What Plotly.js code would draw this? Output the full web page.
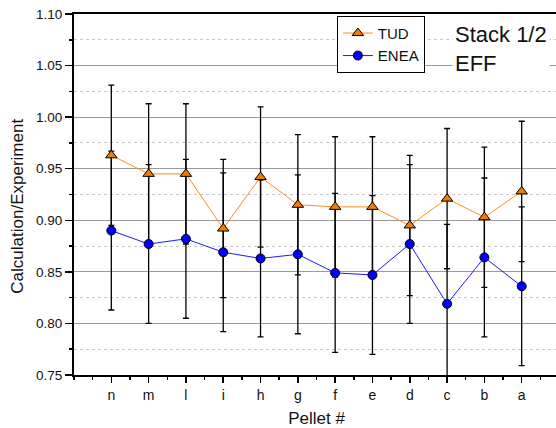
<!DOCTYPE html>
<html>
<head>
<meta charset="utf-8">
<script src="https://cdn.plot.ly/plotly-3.0.1.min.js"></script>
<style>
html, body { margin: 0; padding: 0; overflow: hidden; background: #fff; }
#chart { width: 570px; height: 428px; }
</style>
</head>
<body>
<div id="chart"></div>
<script>
// ---- data ----
const pellets = ['n', 'm', 'l', 'i', 'h', 'g', 'f', 'e', 'd', 'c', 'b', 'a'];
const pelletPos = [1, 2, 3, 4, 5, 6, 7, 8, 9, 10, 11, 12];
const tud = [0.963, 0.945, 0.945, 0.892, 0.942, 0.915, 0.913, 0.913, 0.895, 0.921, 0.903, 0.928];
const tudErr = [0.068, 0.068, 0.068, 0.067, 0.068, 0.068, 0.068, 0.068, 0.068, 0.068, 0.068, 0.068];
const enea = [0.890, 0.877, 0.882, 0.869, 0.863, 0.867, 0.849, 0.847, 0.877, 0.819, 0.864, 0.836];
const eneaErr = [0.077, 0.077, 0.077, 0.077, 0.076, 0.077, 0.077, 0.077, 0.077, 0.077, 0.077, 0.077];
const yTicks = [0.75, 0.80, 0.85, 0.90, 0.95, 1.00, 1.05, 1.10];

const errStyle = (arr) => ({ type: 'data', array: arr, visible: true, color: '#000', thickness: 1.3, width: 3 });

const traces = [
  // error bars drawn first so that all markers sit on top
  { x: pelletPos, y: tud, mode: 'markers', marker: { size: 1, opacity: 0 }, error_y: errStyle(tudErr),
    showlegend: false, hoverinfo: 'skip' },
  { x: pelletPos, y: enea, mode: 'markers', marker: { size: 1, opacity: 0 }, error_y: errStyle(eneaErr),
    showlegend: false, hoverinfo: 'skip' },
  { x: pelletPos, y: tud, name: 'TUD', mode: 'lines+markers',
    line: { color: '#FF8A1C', width: 1 },
    marker: { symbol: 'triangle-up', size: 10, color: '#F47A00', line: { color: '#000', width: 1 } } },
  { x: pelletPos, y: enea, name: 'ENEA', mode: 'lines+markers',
    line: { color: '#1A1AFF', width: 1 },
    marker: { symbol: 'circle', size: 9, color: '#0000FF', line: { color: '#000', width: 1 } } }
];

const layout = {
  width: 570, height: 428,
  margin: { l: 74, r: 11, t: 14, b: 53 },
  paper_bgcolor: '#fff', plot_bgcolor: '#fff',
  font: { family: 'Liberation Sans, Arial, sans-serif', color: '#111', size: 13 },
  showlegend: true,
  legend: {
    x: 0.542, y: 0.995, xanchor: 'left', yanchor: 'top',
    bgcolor: '#fff', bordercolor: '#000', borderwidth: 1,
    font: { size: 15, color: '#111' }, tracegroupgap: 0, itemwidth: 30
  },
  xaxis: {
    range: [0, 13], tickmode: 'array', tickvals: pelletPos, ticktext: pellets,
    showgrid: false, zeroline: false,
    showline: true, linecolor: '#000', linewidth: 2, mirror: true,
    ticks: 'outside', ticklen: 6, tickwidth: 1.5, tickcolor: '#000',
    minor: { tick0: 0, dtick: 0.5, ticks: 'outside', ticklen: 3, tickwidth: 1.5, tickcolor: '#000', showgrid: false },
    tickfont: { size: 14 },
    title: { text: 'Pellet #', font: { size: 17 }, standoff: 11 },
    automargin: false
  },
  yaxis: {
    range: [0.75, 1.10], tickmode: 'array', tickvals: yTicks, tickformat: '.2f',
    showgrid: true, gridcolor: '#9a9a9a', gridwidth: 1, zeroline: false,
    showline: true, linecolor: '#000', linewidth: 2,
    ticks: 'outside', ticklen: 7, tickwidth: 1.5, tickcolor: '#000',
    minor: { tick0: 0.75, dtick: 0.025, ticks: 'outside', ticklen: 3, tickwidth: 1.5, tickcolor: '#000',
             showgrid: true, gridcolor: '#c8c8c8', griddash: 'dot', gridwidth: 1 },
    tickfont: { size: 13.5 },
    automargin: false
  },
  annotations: [
    {
      xref: 'paper', yref: 'paper', x: 0.78, y: 0.987, xanchor: 'left', yanchor: 'top',
      text: 'Stack 1/2<br>EFF', align: 'left', showarrow: false,
      font: { size: 22, color: '#111' }, bgcolor: '#fff', borderpad: 2
    },
    {
      xref: 'paper', yref: 'paper', x: -0.1155, y: 0.469, xanchor: 'center', yanchor: 'middle',
      text: 'Calculation/Experiment', textangle: -90, showarrow: false,
      font: { size: 17, color: '#111' }
    }
  ]
};

Plotly.newPlot('chart', traces, layout, { displayModeBar: false, staticPlot: true });
</script>
</body>
</html>
